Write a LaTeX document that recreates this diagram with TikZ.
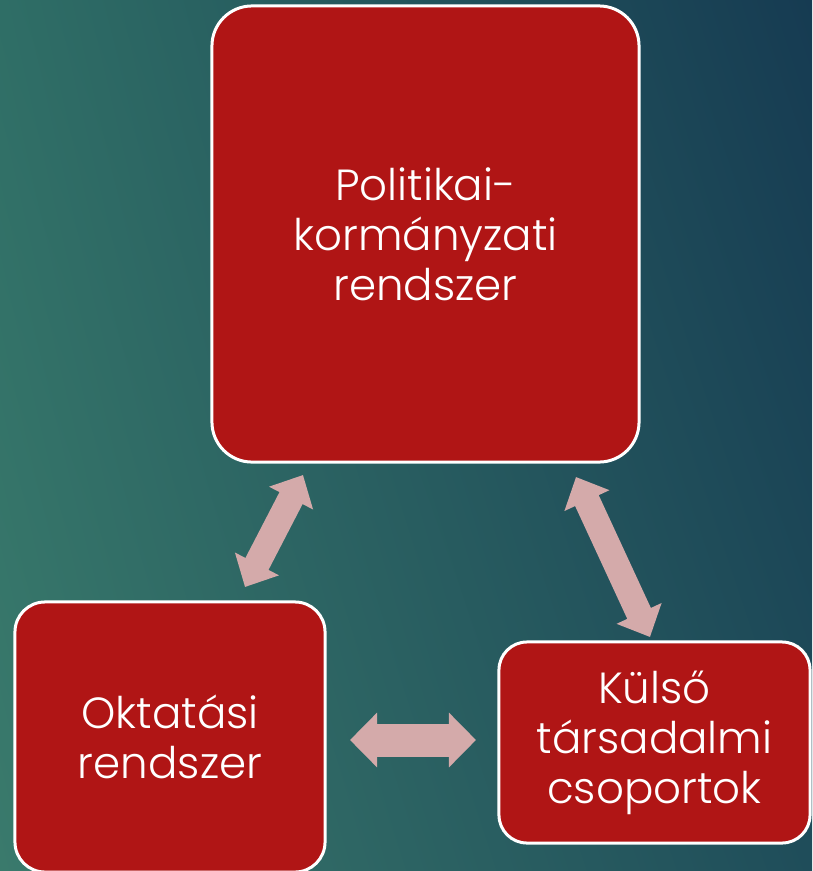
\documentclass[tikz,border=0pt]{standalone}
\usepackage{fontspec}
\setmainfont{Poppins}[UprightFont=* Light]
\usetikzlibrary{arrows.meta,shadings}

\definecolor{boxred}{HTML}{B01515}
\definecolor{arrowpink}{HTML}{D4AAAA}
\definecolor{bgtl}{HTML}{2F6E66}
\definecolor{bgtr}{HTML}{163B52}
\definecolor{bgbl}{HTML}{3A7A6C}
\definecolor{bgbr}{HTML}{1F4D5A}

\tikzset{
  box/.style={draw=white, line width=0.075cm, fill=boxred, text=white,
    align=center, inner sep=0pt, font=\fontsize{31}{35.5}\selectfont},
  bigarrow/.style={arrowpink, line width=0.825cm,
    {Triangle[width=1.325cm,length=0.675cm]}-{Triangle[width=1.325cm,length=0.675cm]}},
  slantarrow/.style={arrowpink, line width=0.65cm,
    {Triangle[width=1.2cm,length=0.65cm]}-{Triangle[width=1.2cm,length=0.65cm]}}
}

\begin{document}
\begin{tikzpicture}[x=0.025cm, y=-0.025cm]
  % background
  \shade[upper left=bgtl, upper right=bgtr, lower left=bgbl, lower right=bgbr]
    (0,0) rectangle (812,871);
  \useasboundingbox (0,0) rectangle (812,871);

  % boxes
  \begin{scope}
    \clip (0,0) rectangle (812,871);
    \node[box, rounded corners=1cm, minimum width=10.675cm, minimum height=11.4cm]
      (politikai) at (425.5,234) {Politikai-\\kormányzati\\rendszer};
    \node[box, rounded corners=0.75cm, minimum width=7.75cm, minimum height=6.75cm]
      (oktatasi) at (170,737) {Oktatási\\rendszer};
    \node[box, rounded corners=0.7cm, minimum width=7.775cm, minimum height=5.025cm]
      (kulso) at (654.5,742.5) {Külső\\társadalmi\\csoportok};
  \end{scope}

  % arrow ends
  \coordinate (p1) at (303,475);
  \coordinate (o1) at (245,587);
  \coordinate (p2) at (576,477);
  \coordinate (k1) at (650,637);
  \coordinate (o2) at (350,740);
  \coordinate (k2) at (476,740);

  \draw[slantarrow] (p1) -- (o1);
  \draw[slantarrow] (p2) -- (k1);
  \draw[bigarrow] (o2) -- (k2);
\end{tikzpicture}
\end{document}
